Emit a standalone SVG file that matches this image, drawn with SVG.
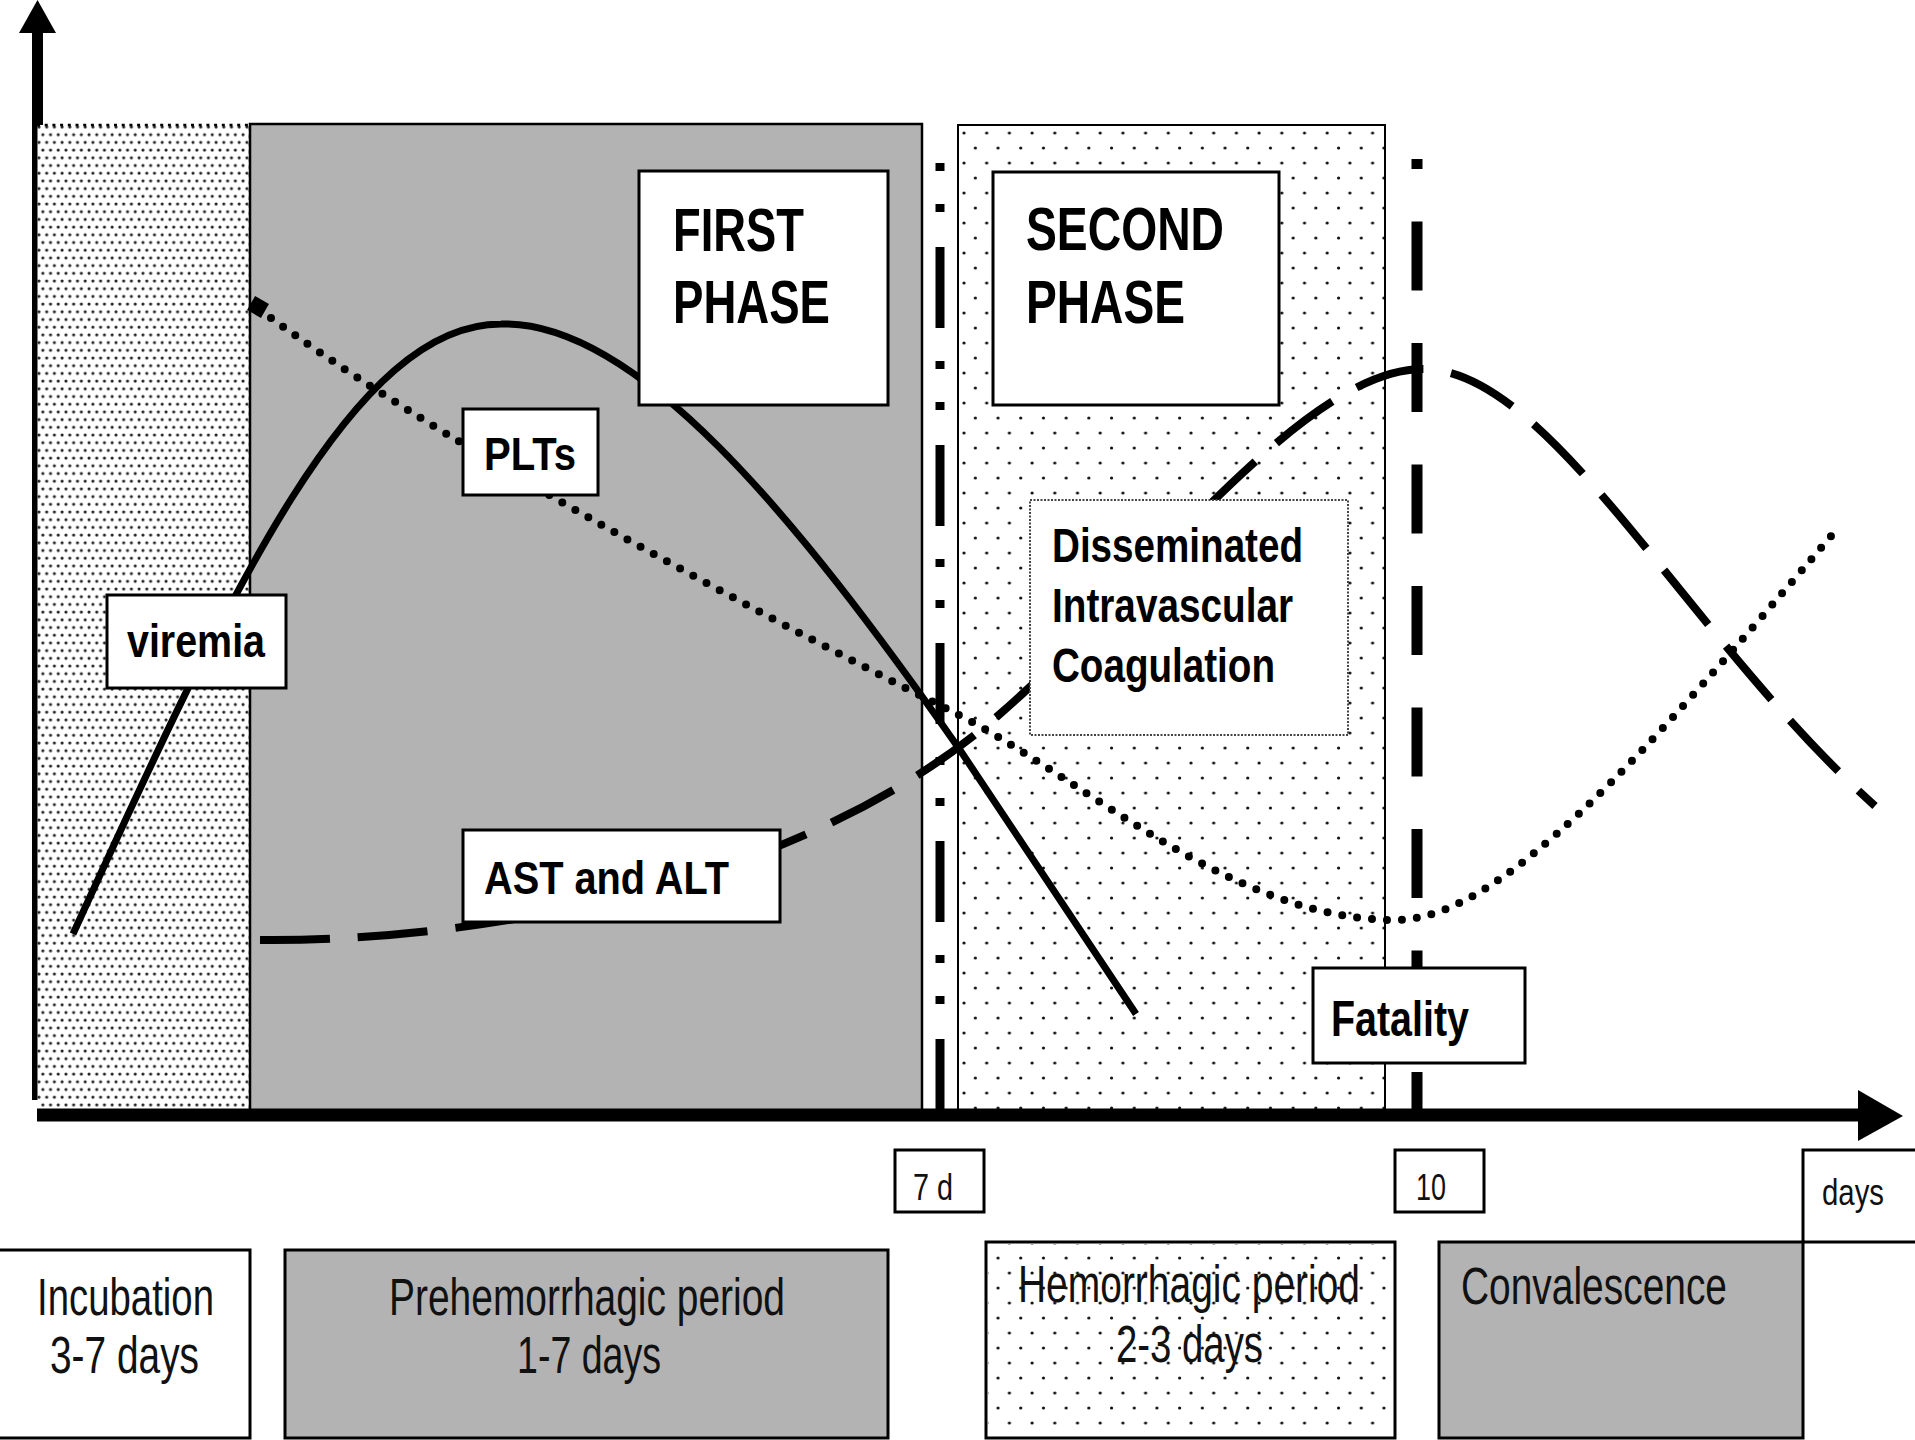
<svg xmlns="http://www.w3.org/2000/svg" width="1915" height="1440" viewBox="0 0 1915 1440">
<defs>
<style>
.b{font-family:"Liberation Sans",Arial,Helvetica,sans-serif;font-weight:700;fill:#000}
.r{font-family:"Liberation Sans",Arial,Helvetica,sans-serif;font-weight:400;fill:#111}
.box{fill:#fff;stroke:#000;stroke-width:3}
.gbox{fill:#b3b3b3;stroke:#000;stroke-width:3}
.curve{fill:none;stroke:#000}
</style>
<pattern id="dense" patternUnits="userSpaceOnUse" x="37" y="125" width="7.7" height="15.4">
<circle cx="2" cy="2" r="1.55" fill="#222"/>
<circle cx="5.85" cy="9.7" r="1.55" fill="#222"/>
</pattern>
<pattern id="sparse" patternUnits="userSpaceOnUse" x="958" y="125" width="22.7" height="30">
<circle cx="6" cy="8" r="1.6" fill="#111"/>
<circle cx="17.35" cy="23" r="1.6" fill="#111"/>
</pattern>
</defs>
<rect width="1915" height="1440" fill="#fff"/>

<g id="y-axis">
<line x1="37.5" y1="28" x2="37.5" y2="1100" stroke="#000" stroke-width="11"/>
<polygon points="37.5,0 56,33 19,33" fill="#000"/>
</g>

<g id="incubation-region">
<rect x="37" y="125" width="213" height="987" fill="#fff"/>
<rect x="37" y="125" width="213" height="987" fill="url(#dense)"/>
<path d="M37,125 H250 V1112" fill="none" stroke="#000" stroke-width="2.5" stroke-dasharray="3 4.7"/>
<line x1="35" y1="125" x2="35" y2="1100" stroke="#000" stroke-width="5"/>
</g>
<g id="first-phase-region">
<rect x="250" y="124" width="672" height="988" fill="#b3b3b3" stroke="#000" stroke-width="2.5"/>
</g>
<g id="second-phase-region">
<rect x="958" y="125" width="427" height="987" fill="#fff" stroke="#000" stroke-width="2"/>
<rect x="959" y="126" width="425" height="985" fill="url(#sparse)"/>
</g>

<g id="connectors">
<path id="day7-line" d="M940,163 V1110" class="curve" stroke-width="9" stroke-dasharray="8 33 8 35 81 33"/>
<path id="fatality-line" d="M1417,159 V1110" class="curve" stroke-width="11" stroke-dasharray="69 52.5" stroke-dashoffset="59"/>
<path id="viremia-curve" d="M73,934 C232,586 354,324 501,324 C635,320 794,513 960,750 L1136,1014" class="curve" stroke-width="7"/>
<path id="plts-curve" d="M259,309 C420,430 720,595 953,712 C1080,775 1230,920 1395,920 C1500,920 1640,760 1838,528" class="curve" stroke-width="8" stroke-linecap="round" stroke-dasharray="0 15"/>
<rect x="-8" y="-8" width="16" height="16" fill="#000" transform="translate(258,307) rotate(30)"/>
<path id="ast-alt-curve" d="M260,940 C430,942 760,905 977,733 C1120,620 1295,369 1423,369 C1551,369 1685,635 1875,806" class="curve" stroke-width="8" stroke-dasharray="70 28"/>
</g>

<g id="first-phase-label">
<rect x="639" y="171" width="249" height="234" class="box"/>
<text x="673" y="251" class="b" font-size="61" textLength="131" lengthAdjust="spacingAndGlyphs">FIRST</text>
<text x="673" y="323" class="b" font-size="61" textLength="157" lengthAdjust="spacingAndGlyphs">PHASE</text>
</g>
<g id="second-phase-label">
<rect x="993" y="172" width="286" height="233" class="box"/>
<text x="1026" y="250" class="b" font-size="61" textLength="198" lengthAdjust="spacingAndGlyphs">SECOND</text>
<text x="1026" y="323" class="b" font-size="61" textLength="159" lengthAdjust="spacingAndGlyphs">PHASE</text>
</g>
<g id="plts-label">
<rect x="463" y="409" width="135" height="86" class="box"/>
<text x="484" y="470" class="b" font-size="47" textLength="92" lengthAdjust="spacingAndGlyphs">PLTs</text>
</g>
<g id="viremia-label">
<rect x="107" y="595" width="179" height="93" class="box"/>
<text x="127" y="657" class="b" font-size="47" textLength="138" lengthAdjust="spacingAndGlyphs">viremia</text>
</g>
<g id="dic-label">
<rect x="1030" y="500" width="318" height="235" fill="#fff" stroke="#444" stroke-width="2" stroke-dasharray="2 1.5"/>
<text x="1052" y="562" class="b" font-size="49" textLength="251" lengthAdjust="spacingAndGlyphs">Disseminated</text>
<text x="1052" y="622" class="b" font-size="49" textLength="241" lengthAdjust="spacingAndGlyphs">Intravascular</text>
<text x="1052" y="682" class="b" font-size="49" textLength="223" lengthAdjust="spacingAndGlyphs">Coagulation</text>
</g>
<g id="ast-alt-label">
<rect x="463" y="830" width="317" height="92" class="box"/>
<text x="484" y="894" class="b" font-size="47" textLength="245" lengthAdjust="spacingAndGlyphs">AST and ALT</text>
</g>
<g id="fatality-label">
<rect x="1313" y="968" width="212" height="95" class="box"/>
<text x="1331" y="1036" class="b" font-size="50" textLength="138" lengthAdjust="spacingAndGlyphs">Fatality</text>
</g>

<g id="x-axis">
<line x1="37" y1="1115" x2="1862" y2="1115" stroke="#000" stroke-width="13"/>
<polygon points="1858,1090 1903,1116 1858,1141" fill="#000"/>
</g>

<g id="tick-7d">
<rect x="895" y="1150" width="89" height="62" class="box"/>
<text x="913" y="1200" class="r" font-size="36" textLength="40" lengthAdjust="spacingAndGlyphs">7 d</text>
</g>
<g id="tick-10">
<rect x="1395" y="1150" width="89" height="62" class="box"/>
<text x="1416" y="1200" class="r" font-size="36" textLength="30" lengthAdjust="spacingAndGlyphs">10</text>
</g>
<g id="tick-days">
<rect x="1803" y="1150" width="120" height="92" class="box"/>
<text x="1822" y="1205" class="r" font-size="36" textLength="62" lengthAdjust="spacingAndGlyphs">days</text>
</g>

<g id="incubation-period">
<rect x="-2" y="1250" width="252" height="188" class="box"/>
<text x="37" y="1315" class="r" font-size="51" textLength="177" lengthAdjust="spacingAndGlyphs">Incubation</text>
<text x="50" y="1373" class="r" font-size="51" textLength="149" lengthAdjust="spacingAndGlyphs">3-7 days</text>
</g>
<g id="prehemorrhagic-period">
<rect x="285" y="1250" width="603" height="188" class="gbox"/>
<text x="389" y="1315" class="r" font-size="51" textLength="396" lengthAdjust="spacingAndGlyphs">Prehemorrhagic period</text>
<text x="517" y="1373" class="r" font-size="51" textLength="144" lengthAdjust="spacingAndGlyphs">1-7 days</text>
</g>
<g id="hemorrhagic-period">
<rect x="986" y="1242" width="409" height="196" class="box"/>
<rect x="988" y="1244" width="405" height="192" fill="url(#sparse)"/>
<text x="1018" y="1302" class="r" font-size="51" textLength="342" lengthAdjust="spacingAndGlyphs">Hemorrhagic period</text>
<text x="1116" y="1362" class="r" font-size="51" textLength="147" lengthAdjust="spacingAndGlyphs">2-3 days</text>
</g>
<g id="convalescence">
<rect x="1439" y="1242" width="364" height="196" class="gbox"/>
<text x="1461" y="1304" class="r" font-size="51" textLength="266" lengthAdjust="spacingAndGlyphs">Convalescence</text>
</g>
</svg>
